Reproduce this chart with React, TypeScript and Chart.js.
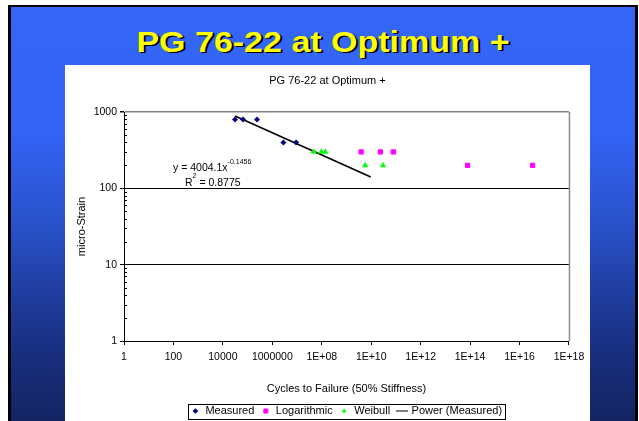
import { useEffect, useRef } from "react";
import { Chart, registerables } from "chart.js";

Chart.register(...registerables);

const FONT = "'Liberation Sans', Arial, Helvetica, sans-serif";

const slideTitle = "PG 76-22 at Optimum +";
const chartTitle = "PG 76-22 at Optimum +";
const xAxisTitle = "Cycles to Failure (50% Stiffness)";
const yAxisTitle = "micro-Strain";
const seriesNames = ["Measured", "Logarithmic", "Weibull", "Power (Measured)"];

// Measured fatigue data (navy diamonds)
const measuredCycles = [3.1e4, 6.5e4, 2.4e5, 2.8e6, 9.2e6];
const measuredStrain = [800, 800, 800, 400, 400];
// Logarithmic model (magenta squares)
const logCycles = [3.9e9, 2.35e10, 7.8e10, 7.9e13, 3.4e16];
const logStrain = [300, 300, 300, 200, 200];
// Weibull model (green triangles)
const weibullCycles = [4.7e7, 9.6e7, 1.4e8, 5.7e9, 3.0e10];
const weibullStrain = [300, 300, 300, 200, 200];
// Power trendline (Measured) end points as drawn
const powerCycles = [3.1e4, 9.6e9];
const powerStrain = [889, 141];

const xTickValues = [1, 1e2, 1e4, 1e6, 1e8, 1e10, 1e12, 1e14, 1e16, 1e18];
const xTickLabels = ["1", "100", "10000", "1000000", "1E+08", "1E+10", "1E+12", "1E+14", "1E+16", "1E+18"];
const yMajorValues = [1, 10, 100, 1000];
const yTickLabels = ["1", "10", "100", "1000"];
const yMinorValues = [2, 3, 4, 5, 6, 7, 8, 9, 20, 30, 40, 50, 60, 70, 80, 90, 200, 300, 400, 500, 600, 700, 800, 900];

const eqMain = "y = 4004.1x";
const eqExp = "-0.1456";
const r2Main = "R";
const r2Exp = "2";
const r2Rest = " = 0.8775";

const toPoints = (xs: number[], ys: number[]) => xs.map((x, i) => ({ x, y: ys[i] }));

export default function App() {
  const ref = useRef<HTMLCanvasElement | null>(null);

  useEffect(() => {
    const canvas = ref.current;
    if (!canvas) return;

    const lineImg = document.createElement("canvas");
    lineImg.width = 12;
    lineImg.height = 3;
    const lctx = lineImg.getContext("2d");
    if (lctx) {
      lctx.fillStyle = "#000";
      lctx.fillRect(0, 1, 12, 1);
    }

    const decor = {
      id: "decor",
      afterLayout(chart: any) {
        const ca = chart.chartArea;
        const lg = chart.legend;
        if (lg) {
          const s = (ca.left + ca.right) / 2 - (lg.left + lg.right) / 2;
          lg.left += s;
          lg.right += s;
        }
        const tb = chart.titleBlock;
        if (tb) {
          const s = chart.width / 2 - (tb.left + tb.right) / 2;
          tb.left += s;
          tb.right += s;
        }
      },
      beforeDatasetsDraw(chart: any) {
        const { ctx, chartArea: ca, scales } = chart;
        ctx.save();
        ctx.strokeStyle = "#8c8c8c";
        ctx.lineWidth = 1.5;
        ctx.beginPath();
        ctx.moveTo(ca.right + 0.5, ca.top);
        ctx.lineTo(ca.right + 0.5, ca.bottom);
        ctx.stroke();
        ctx.strokeStyle = "#000";
        ctx.lineWidth = 1;
        ctx.beginPath();
        for (const v of yMinorValues) {
          const y = Math.round(scales.y.getPixelForValue(v)) + 0.5;
          ctx.moveTo(ca.left, y);
          ctx.lineTo(ca.left + 3, y);
        }
        ctx.stroke();
        ctx.restore();
      },
      afterDatasetsDraw(chart: any) {
        const { ctx } = chart;
        ctx.save();
        ctx.fillStyle = "#000";
        ctx.textBaseline = "alphabetic";
        ctx.textAlign = "left";
        ctx.font = `10.5px ${FONT}`;
        const x1 = 108;
        ctx.fillText(eqMain, x1, 106);
        const w1 = ctx.measureText(eqMain).width;
        ctx.font = `7px ${FONT}`;
        ctx.fillText(eqExp, x1 + w1, 99);
        ctx.font = `10.5px ${FONT}`;
        const x2 = 120;
        ctx.fillText(r2Main, x2, 121);
        const w2 = ctx.measureText(r2Main).width;
        ctx.font = `7px ${FONT}`;
        ctx.fillText(r2Exp, x2 + w2, 113);
        const w3 = ctx.measureText(r2Exp).width;
        ctx.font = `10.5px ${FONT}`;
        ctx.fillText(r2Rest, x2 + w2 + w3, 121);
        ctx.restore();
      },
      afterDraw(chart: any) {
        const lg = chart.legend;
        if (!lg || !lg.legendHitBoxes || !lg.legendHitBoxes.length) return;
        const hb = lg.legendHitBoxes;
        let minL = Infinity;
        let maxR = -Infinity;
        for (const h of hb) {
          minL = Math.min(minL, h.left);
          maxR = Math.max(maxR, h.left + h.width);
        }
        const top = hb[0].top;
        const h = hb[0].height;
        const { ctx } = chart;
        ctx.save();
        ctx.strokeStyle = "#000";
        ctx.lineWidth = 1;
        ctx.strokeRect(Math.round(minL - 3) + 0.5, Math.round(top - 2) + 0.5, Math.round(maxR - minL + 6), Math.round(h + 4));
        ctx.restore();
      },
    };

    const chart = new Chart(canvas, {
      type: "scatter",
      data: {
        datasets: [
          {
            label: seriesNames[0],
            data: toPoints(measuredCycles, measuredStrain),
            pointStyle: "rectRot",
            pointRadius: 3,
            borderWidth: 0,
            backgroundColor: "#000080",
            borderColor: "#000080",
          },
          {
            label: seriesNames[1],
            data: toPoints(logCycles, logStrain),
            pointStyle: "rect",
            pointRadius: 3,
            borderWidth: 1,
            backgroundColor: "#ff00ff",
            borderColor: "#ff00ff",
          },
          {
            label: seriesNames[2],
            data: toPoints(weibullCycles, weibullStrain),
            pointStyle: "triangle",
            pointRadius: 3.6,
            borderWidth: 0,
            backgroundColor: "#00ff00",
            borderColor: "#00ff00",
          },
          {
            label: seriesNames[3],
            data: toPoints(powerCycles, powerStrain),
            showLine: true,
            pointRadius: 0,
            pointStyle: "line",
            borderWidth: 1.6,
            borderColor: "#000",
            backgroundColor: "#000",
          },
        ],
      },
      options: {
        responsive: false,
        animation: false,
        events: [],
        layout: { padding: { top: 0, left: 0, right: 17, bottom: 4.5 } },
        plugins: {
          tooltip: { enabled: false },
          title: {
            display: true,
            text: chartTitle,
            color: "#000",
            font: { family: FONT, size: 11, weight: "normal" },
            padding: { top: 9.4, bottom: 24.4 },
          },
          legend: {
            display: true,
            position: "bottom",
            labels: {
              usePointStyle: true,
              boxWidth: 9,
              boxHeight: 4,
              padding: 7,
              color: "#000",
              font: { family: FONT, size: 11 },
              generateLabels(ch: any) {
                const items = (Chart as any).defaults.plugins.legend.labels.generateLabels(ch);
                items.forEach((it: any, i: number) => {
                  if (i === 3) it.pointStyle = lineImg;
                });
                return items;
              },
            },
          },
        },
        scales: {
          x: {
            type: "logarithmic",
            position: "bottom",
            min: 1,
            max: 1e18,
            afterBuildTicks: (axis: any) => {
              axis.ticks = xTickValues.map((v) => ({ value: v }));
            },
            afterFit: (axis: any) => {
              axis.height = 57.5;
            },
            ticks: {
              autoSkip: false,
              maxRotation: 0,
              minRotation: 0,
              padding: 5.7,
              color: "#000",
              font: { family: FONT, size: 10.5 },
              callback: (_v: any, i: number) => xTickLabels[i],
            },
            grid: {
              drawOnChartArea: false,
              drawTicks: true,
              tickLength: 4,
              tickColor: "#000",
            },
            border: { display: true, color: "#000", width: 1 },
            title: {
              display: true,
              text: xAxisTitle,
              color: "#000",
              font: { family: FONT, size: 11 },
              padding: { top: 0, bottom: 2.9 },
            },
          },
          y: {
            type: "logarithmic",
            position: "left",
            min: 1,
            max: 1000,
            afterBuildTicks: (axis: any) => {
              const vals = [...yMajorValues, ...yMinorValues].sort((a, b) => a - b);
              axis.ticks = vals.map((v) => ({ value: v }));
            },
            afterFit: (axis: any) => {
              axis.width = 59;
            },
            ticks: {
              autoSkip: false,
              padding: 3,
              color: "#000",
              font: { family: FONT, size: 10.5 },
              callback: (v: any) => {
                const idx = yMajorValues.indexOf(Number(v));
                return idx >= 0 ? yTickLabels[idx] : "";
              },
            },
            grid: {
              drawOnChartArea: true,
              drawTicks: true,
              tickLength: 4,
              color: (c: any) => {
                const v = c.tick ? c.tick.value : 0;
                if (v === 1000) return "#808080";
                if (v === 10 || v === 100) return "#000";
                return "rgba(0,0,0,0)";
              },
              lineWidth: (c: any) => (c.tick && c.tick.value === 1000 ? 1.5 : 1),
              tickColor: (c: any) => {
                const v = c.tick ? c.tick.value : 0;
                return yMajorValues.indexOf(v) >= 0 ? "#000" : "rgba(0,0,0,0)";
              },
            },
            border: { display: true, color: "#000", width: 1 },
            title: {
              display: true,
              text: yAxisTitle,
              color: "#000",
              font: { family: FONT, size: 11 },
              padding: { top: 10.4, bottom: 0 },
            },
          },
        },
      },
      plugins: [decor],
    } as any);

    return () => chart.destroy();
  }, []);

  return (
    <div
      style={{
        position: "fixed",
        left: 0,
        top: 0,
        width: 639,
        height: 421,
        overflow: "hidden",
        background: "#fff",
      }}
    >
      <div
        style={{
          position: "absolute",
          left: 8,
          top: 5,
          width: 630,
          height: 430,
          boxSizing: "border-box",
          borderLeft: "3px solid #000",
          borderTop: "2px solid #000",
          borderRight: "3px solid #000",
          background:
            "linear-gradient(to bottom, #3466f8 0%, #3363f4 30%, #2a52cc 50%, #2040a4 65%, #182e7c 82%, #13225e 100%)",
        }}
      />
      <div
        style={{
          position: "absolute",
          left: 8,
          top: 24,
          width: 630,
          textAlign: "center",
          fontFamily: FONT,
          fontWeight: "bold",
          fontSize: 34,
          lineHeight: "34px",
          color: "#ffff00",
          textShadow: "2px 2px 0 #000",
          transform: "scaleY(0.88)",
          transformOrigin: "50% 50%",
          whiteSpace: "nowrap",
        }}
      >
        {slideTitle}
      </div>
      <div
        style={{
          position: "absolute",
          left: 65,
          top: 65,
          width: 525,
          height: 366,
          background: "#fff",
        }}
      >
        <canvas ref={ref} width={525} height={366} style={{ display: "block", width: 525, height: 366 }} />
      </div>
    </div>
  );
}
